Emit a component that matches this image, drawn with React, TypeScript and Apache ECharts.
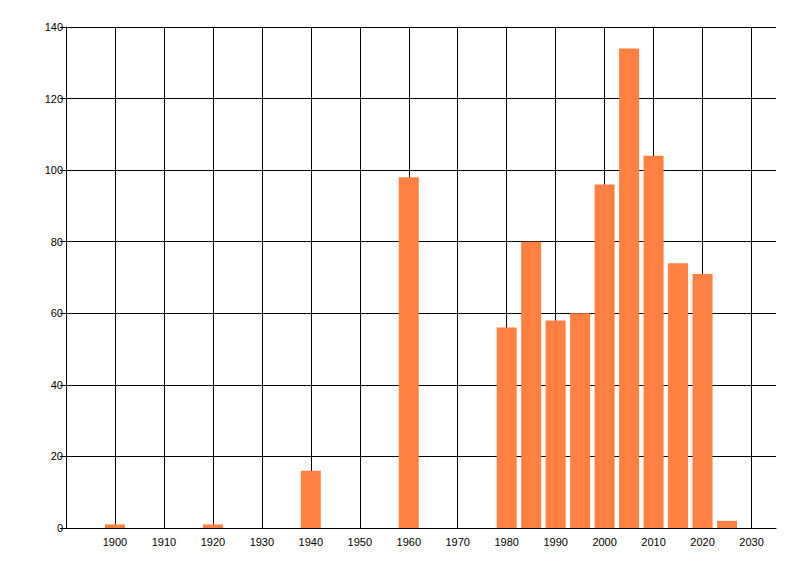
import React, { useEffect, useRef } from "react";
import * as echarts from "echarts";

const years = [1900, 1920, 1940, 1960, 1980, 1985, 1990, 1995, 2000, 2005, 2010, 2015, 2020, 2025];
const counts = [1, 1, 16, 98, 56, 80, 58, 60, 96, 134, 104, 74, 71, 2];
const xMin = 1890;
const xMax = 2035;
const yMin = 0;
const yMax = 140;

export default function App() {
  const ref = useRef<HTMLDivElement>(null);
  useEffect(() => {
    if (!ref.current) return;
    const chart = echarts.init(ref.current, undefined, { renderer: "svg" });
    const font = "Liberation Sans";
    chart.setOption({
      animation: false,
      backgroundColor: "#ffffff",
      grid: { left: 66, right: 24, top: 27, bottom: 48, containLabel: false },
      xAxis: {
        type: "value",
        min: xMin,
        max: xMax,
        interval: 10,
        axisLine: { show: true, onZero: false, lineStyle: { color: "#000", width: 1 } },
        axisTick: { show: false },
        axisLabel: {
          color: "#000",
          fontFamily: font,
          fontSize: 11,
          margin: 8,
          formatter: (v: number) => (v === xMin || v === xMax ? "" : String(v)),
        },
        splitLine: { show: true, showMinLine: false, showMaxLine: false, lineStyle: { color: "#000", width: 1 } },
      },
      yAxis: {
        type: "value",
        min: yMin,
        max: yMax,
        interval: 20,
        axisLine: { show: true, lineStyle: { color: "#000", width: 1 } },
        axisTick: { show: true, length: 6, lineStyle: { color: "#000" } },
        axisLabel: { color: "#000", fontFamily: font, fontSize: 11, margin: 3 },
        splitLine: { show: true, showMinLine: false, lineStyle: { color: "#000", width: 1 } },
      },
      series: [
        {
          type: "bar",
          data: years.map((y, i) => [y, counts[i]]),
          barWidth: 20,
          itemStyle: { color: "#FF8040" },
        },
      ],
    });
    return () => chart.dispose();
  }, []);
  return <div ref={ref} style={{ width: 800, height: 576, margin: -8 }} />;
}
